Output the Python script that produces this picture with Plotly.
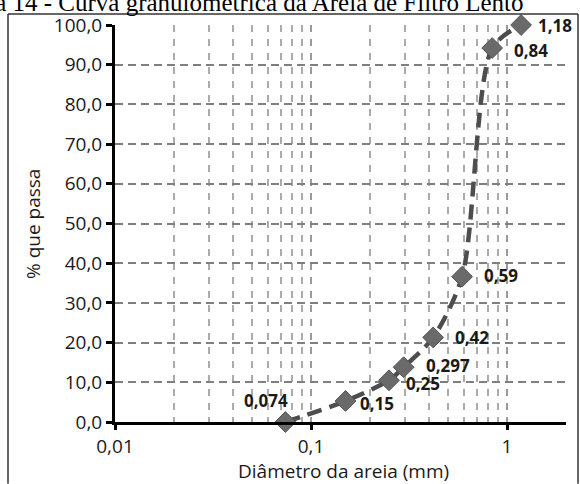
import math
import plotly.graph_objects as go

# ---- data ----
diametros = [0.074, 0.15, 0.25, 0.297, 0.42, 0.59, 0.84, 1.18]
passa = [0.0, 5.3, 10.5, 13.8, 21.3, 36.6, 94.2, 100.0]
rotulos = ["0,074", "0,15", "0,25", "0,297", "0,42", "0,59", "0,84", "1,18"]

x_ticks = [0.01, 0.1, 1]
x_ticktext = ["0,01", "0,1", "1"]
x_minor = [m * 10 ** e for e in (-2, -1, 0) for m in range(2, 10)]
x_minor = [v for v in x_minor if v <= 2.0001]

# ---- styling ----
FONT = "Open Sans"
# label offsets in pixels (xanchor, xshift, yshift)
label_style = [("center", -19, 22), ("left", 12, -3), ("left", 15, -3), ("left", 20, 2),
               ("left", 20, 0), ("left", 20, 1), ("left", 20, -2), ("left", 15, 0)]

fig = go.Figure()
fig.add_trace(go.Scatter(
    x=diametros, y=passa, mode="lines+markers",
    line=dict(color="#4d4d4d", width=4.5, dash="15px,8px", shape="spline", smoothing=0.8),
    marker=dict(symbol="diamond", size=16, color="#6a6a6a", line=dict(color="#555555", width=1)),
    cliponaxis=False, showlegend=False, hoverinfo="skip",
))

L, R, T, B = 115, 14, 23, 62
W, H = 580, 484
pw, ph = W - L - R, H - T - B

def px2paper_x(px):
    return (px - L) / pw

def px2paper_y(py):
    return (H - B - py) / ph

annotations = []
for xv, yv, txt, (anc, dx, dy) in zip(diametros, passa, rotulos, label_style):
    annotations.append(dict(
        x=math.log10(xv), y=yv, xref="x", yref="y", text=txt, showarrow=False,
        xanchor=anc, yanchor="middle", xshift=dx, yshift=dy,
        font=dict(family=FONT, size=17, color="#1a1a1a", weight="bold"),
    ))

annotations += [
    dict(text="Diâmetro da areia (mm)", xref="paper", yref="paper",
         x=px2paper_x(343), y=px2paper_y(471), xanchor="center", yanchor="middle",
         showarrow=False, font=dict(family=FONT, size=19)),
    dict(text="% que passa", xref="paper", yref="paper",
         x=px2paper_x(33), y=px2paper_y(223), xanchor="center", yanchor="middle",
         textangle=-90, showarrow=False, font=dict(family=FONT, size=19)),
    dict(text="Figura 14 - Curva granulométrica da Areia de Filtro Lento",
         xref="paper", yref="paper",
         x=px2paper_x(525), y=px2paper_y(0), xanchor="right", yanchor="middle",
         showarrow=False, font=dict(family="Liberation Serif", size=25, color="black")),
]

frame = [
    dict(type="line", xref="paper", yref="paper",
         x0=px2paper_x(8), x1=px2paper_x(8), y0=px2paper_y(12), y1=px2paper_y(484)),
    dict(type="line", xref="paper", yref="paper",
         x0=px2paper_x(8), x1=px2paper_x(578), y0=px2paper_y(12), y1=px2paper_y(12)),
    dict(type="line", xref="paper", yref="paper",
         x0=px2paper_x(578), x1=px2paper_x(578), y0=px2paper_y(12), y1=px2paper_y(484)),
]
for s in frame:
    s["line"] = dict(color="#333333", width=1.5)
    s["layer"] = "above"

fig.update_layout(
    width=W, height=H,
    margin=dict(l=L, r=R, t=T, b=B),
    paper_bgcolor="white", plot_bgcolor="white",
    separators=", ",
    font=dict(family=FONT, size=19, color="#1a1a1a"),
    xaxis=dict(
        type="log", range=[-2, 0.30103],
        tickvals=x_ticks, ticktext=x_ticktext,
        ticks="outside", ticklen=5, tickwidth=3, tickcolor="black",
        showline=True, linecolor="black", linewidth=3,
        showgrid=True, gridcolor="#9a9a9a", gridwidth=1.5, griddash="7px,7px",
        minor=dict(tickvals=x_minor, showgrid=True, gridcolor="#ababab",
                   gridwidth=1.5, griddash="7px,7px", ticks=""),
        tickfont=dict(family=FONT, size=19),
        zeroline=False,
    ),
    yaxis=dict(
        range=[0, 100], dtick=10, tick0=0, tickformat=".1f",
        ticks="outside", ticklen=6, tickwidth=3, tickcolor="black",
        showline=True, linecolor="black", linewidth=3,
        showgrid=True, gridcolor="#7f7f7f", gridwidth=1.5, griddash="8px,5px",
        tickfont=dict(family=FONT, size=19),
        zeroline=False,
    ),
    annotations=annotations,
    shapes=frame,
)

fig.write_html("out.html", config={"displayModeBar": False},
               post_script="document.body.style.margin='0';")
